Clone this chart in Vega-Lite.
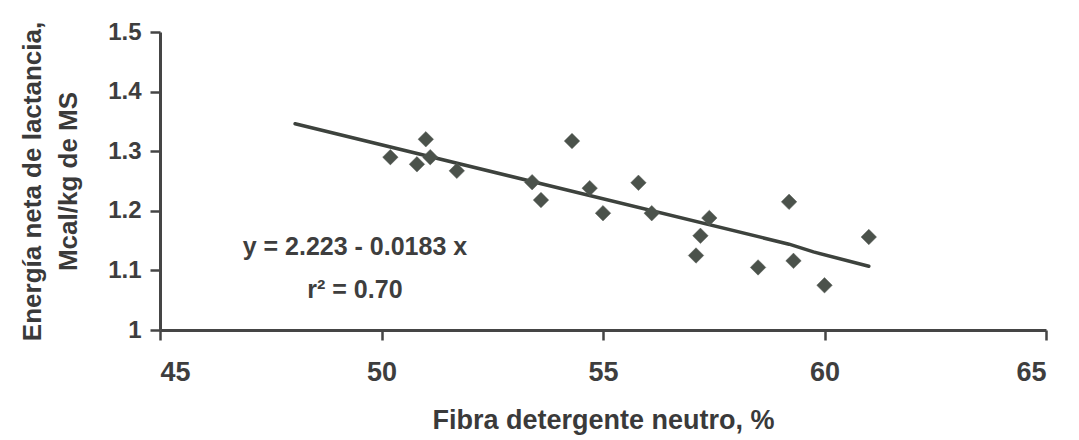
{
  "$schema": "https://vega.github.io/schema/vega-lite/v6.json",
  "width": 886,
  "height": 298,
  "autosize": {"type": "none"},
  "padding": {"left": 160, "top": 32, "right": 33, "bottom": 110},
  "background": "white",
  "config": {
    "view": {"stroke": null},
    "font": "Liberation Sans",
    "axis": {
      "grid": false,
      "domainColor": "#454545",
      "domainWidth": 3,
      "tickColor": "#454545",
      "tickWidth": 2.5,
      "tickSize": 10,
      "labelFont": "Liberation Sans",
      "labelFontWeight": "bold",
      "labelColor": "#3e3e3e",
      "titleFont": "Liberation Sans",
      "titleFontWeight": "bold",
      "titleColor": "#3a3a3a"
    }
  },
  "datasets": {
    "obs": [
      {"fdn": 50.2, "enl": 1.29},
      {"fdn": 51.0, "enl": 1.32},
      {"fdn": 50.8, "enl": 1.278},
      {"fdn": 51.1, "enl": 1.29},
      {"fdn": 51.7, "enl": 1.267},
      {"fdn": 53.4, "enl": 1.248},
      {"fdn": 53.6, "enl": 1.218},
      {"fdn": 54.3, "enl": 1.317},
      {"fdn": 54.7, "enl": 1.238},
      {"fdn": 55.0, "enl": 1.196},
      {"fdn": 55.8, "enl": 1.247},
      {"fdn": 56.1, "enl": 1.196},
      {"fdn": 57.4, "enl": 1.188},
      {"fdn": 57.2, "enl": 1.158},
      {"fdn": 57.1, "enl": 1.125},
      {"fdn": 58.5, "enl": 1.105},
      {"fdn": 59.2, "enl": 1.215},
      {"fdn": 59.3, "enl": 1.116},
      {"fdn": 60.0, "enl": 1.075},
      {"fdn": 61.0, "enl": 1.156}
    ],
    "fit": [
      {"fdn": 48.05, "enl": 1.346},
      {"fdn": 59.2, "enl": 1.144},
      {"fdn": 59.75, "enl": 1.131},
      {"fdn": 61.0, "enl": 1.107}
    ],
    "notes": [
      {"t": "y = 2.223 - 0.0183 x", "fdn": 49.4, "enl": 1.139},
      {"t": "r² = 0.70", "fdn": 49.4, "enl": 1.067}
    ]
  },
  "encoding": {
    "x": {
      "field": "fdn",
      "type": "quantitative",
      "scale": {"domain": [45, 65], "nice": false, "zero": false},
      "axis": {
        "values": [45, 50, 55, 60, 65],
        "title": "Fibra detergente neutro, %",
        "labelFontSize": 27,
        "labelPadding": 19,
        "titleFontSize": 27,
        "titlePadding": 22
      }
    },
    "y": {
      "field": "enl",
      "type": "quantitative",
      "scale": {"domain": [1, 1.5], "nice": false, "zero": false},
      "axis": {
        "values": [1, 1.1, 1.2, 1.3, 1.4, 1.5],
        "labelExpr": "datum.value == 1 ? '1' : format(datum.value, '.1f')",
        "title": ["Energía neta de lactancia,", "Mcal/kg de MS"],
        "labelFontSize": 24,
        "labelPadding": 9,
        "titleFontSize": 26,
        "titleLineHeight": 36,
        "titlePadding": 26
      }
    }
  },
  "layer": [
    {
      "data": {"name": "fit"},
      "mark": {"type": "line", "color": "#3d423d", "strokeWidth": 3.5, "strokeCap": "round"}
    },
    {
      "data": {"name": "obs"},
      "mark": {"type": "point", "shape": "diamond", "filled": true, "size": 240, "color": "#4b524b", "opacity": 1, "stroke": "#5a605a", "strokeWidth": 0.5}
    },
    {
      "data": {"name": "notes"},
      "mark": {"type": "text", "font": "Liberation Sans", "fontWeight": "bold", "fontSize": 25, "color": "#3e3e3e", "align": "center", "baseline": "middle"},
      "encoding": {"text": {"field": "t"}}
    }
  ]
}
